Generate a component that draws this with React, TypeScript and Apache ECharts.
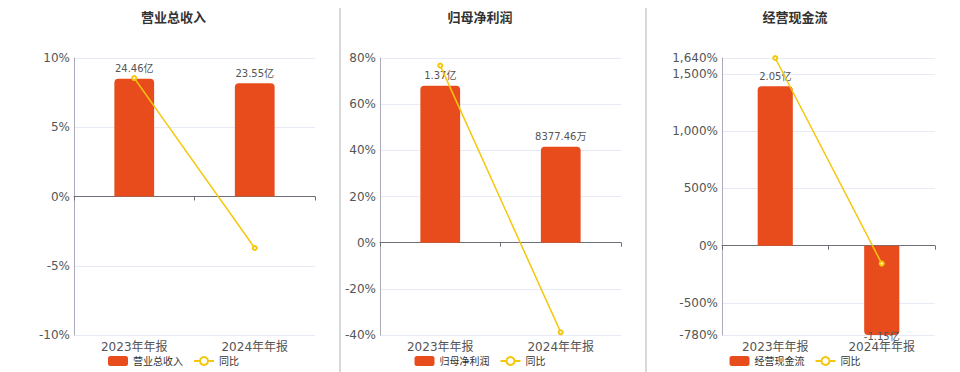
import React, { useEffect, useRef } from 'react';
import * as echarts from 'echarts';

const categories = ['2023年年报', '2024年年报'];
const yoyName = '同比';

const revenueName = '营业总收入';
const revenueValues = [24.46, 23.55];
const revenueLabels = ['24.46亿', '23.55亿'];
const revenueYoy = [8.55, -3.72];
const revenueRange = [-10, 10];

const profitName = '归母净利润';
const profitValues = [1.37, 0.837746];
const profitLabels = ['1.37亿', '8377.46万'];
const profitYoy = [76.7, -38.85];
const profitRange = [-40, 80];

const cashName = '经营现金流';
const cashValues = [2.05, -1.15];
const cashLabels = ['2.05亿', '-1.15亿'];
const cashYoy = [1640, -156.1];
const cashRange = [-780, 1640];

const BAR_COLOR = '#E84C1D';
const LINE_COLOR = '#F4C70F';
const FONT = '"DejaVu Sans", "Noto Sans CJK SC", sans-serif';

type PanelDef = {
  name: string;
  values: number[];
  labels: string[];
  yoy: number[];
  range: number[];
  left: number;
  width: number;
  gridLeft: number;
  gridRight: number;
};

const panels: PanelDef[] = [
  { name: revenueName, values: revenueValues, labels: revenueLabels, yoy: revenueYoy, range: revenueRange, left: 8, width: 331, gridLeft: 66, gridRight: 24 },
  { name: profitName, values: profitValues, labels: profitLabels, yoy: profitYoy, range: profitRange, left: 330, width: 300, gridLeft: 50, gridRight: 9 },
  { name: cashName, values: cashValues, labels: cashLabels, yoy: cashYoy, range: cashRange, left: 640, width: 310, gridLeft: 82, gridRight: 15 },
];

function buildOption(p: PanelDef): any {
  const [pmin, pmax] = p.range;
  const barMax = Math.max(...p.values) / 0.85;
  const barMin = (barMax * pmin) / pmax;
  return {
    animation: false,
    textStyle: { fontFamily: FONT },
    title: {
      text: p.name,
      left: 'center',
      top: 11,
      padding: 0,
      textStyle: { fontSize: 13, fontWeight: 'bold', color: '#333', fontFamily: FONT },
    },
    legend: {
      data: [p.name, yoyName],
      left: 'center',
      top: 356,
      padding: 0,
      itemWidth: 20,
      itemHeight: 10,
      itemGap: 10,
      textStyle: { fontSize: 10, color: '#333', fontFamily: FONT },
    },
    grid: { left: p.gridLeft, right: p.gridRight, top: 58, bottom: 37 },
    xAxis: [
      {
        type: 'category',
        data: categories,
        position: 'bottom',
        axisLine: { show: false, onZero: false },
        axisTick: { show: false },
        axisLabel: { fontSize: 12, color: '#555', margin: 6, fontFamily: FONT },
      },
      {
        type: 'category',
        data: categories,
        position: 'top',
        axisLine: { show: true, onZero: true, onZeroAxisIndex: 0, lineStyle: { color: '#6E7079' } },
        axisTick: { show: true, inside: true, length: 4, lineStyle: { color: '#6E7079' } },
        axisLabel: { show: false },
      },
    ],
    yAxis: [
      {
        type: 'value',
        min: pmin,
        max: pmax,
        axisLine: { show: true, lineStyle: { color: '#aab' } },
        axisTick: { show: false },
        axisLabel: {
          fontSize: 12,
          color: '#555',
          margin: 4,
          fontFamily: FONT,
          formatter: (v: number) => v.toLocaleString('en-US') + '%',
        },
        splitLine: { show: true, lineStyle: { color: '#E6EBF5' } },
      },
      {
        type: 'value',
        min: barMin,
        max: barMax,
        show: false,
        splitLine: { show: false },
      },
    ],
    series: [
      {
        name: p.name,
        type: 'bar',
        xAxisIndex: 0,
        yAxisIndex: 1,
        barWidth: '33%',
        itemStyle: { color: BAR_COLOR },
        label: {
          show: true,
          fontSize: 10,
          color: '#555',
          fontFamily: FONT,
          formatter: (q: any) => p.labels[q.dataIndex],
        },
        data: p.values.map((v) => ({
          value: v,
          itemStyle: { borderRadius: v >= 0 ? [4, 4, 0, 0] : [0, 0, 4, 4] },
          label: v >= 0 ? { position: 'top', distance: 5 } : { position: 'bottom', distance: 0, offset: [0, -4] },
        })),
      },
      {
        name: yoyName,
        type: 'line',
        xAxisIndex: 0,
        yAxisIndex: 0,
        data: p.yoy,
        symbol: 'emptyCircle',
        symbolSize: 4,
        lineStyle: { color: LINE_COLOR, width: 1.5 },
        itemStyle: { color: LINE_COLOR },
        z: 5,
      },
    ],
  };
}

function Panel({ def }: { def: PanelDef }) {
  const ref = useRef<HTMLDivElement>(null);
  useEffect(() => {
    if (!ref.current) return;
    const chart = echarts.init(ref.current, undefined, { renderer: 'svg' });
    chart.setOption(buildOption(def));
    return () => chart.dispose();
  }, [def]);
  return (
    <div
      ref={ref}
      style={{ position: 'absolute', left: def.left, top: 0, width: def.width, height: 372 }}
    />
  );
}

export default function App() {
  return (
    <div style={{ position: 'absolute', left: 0, top: 0, width: 960, height: 372, background: '#fff', overflow: 'hidden' }}>
      {panels.map((p) => (
        <Panel key={p.name} def={p} />
      ))}
      <div style={{ position: 'absolute', left: 339, top: 8, width: 2, height: 364, background: '#d9d9d9', zIndex: 2 }} />
      <div style={{ position: 'absolute', left: 645, top: 8, width: 2, height: 364, background: '#d9d9d9', zIndex: 2 }} />
    </div>
  );
}
